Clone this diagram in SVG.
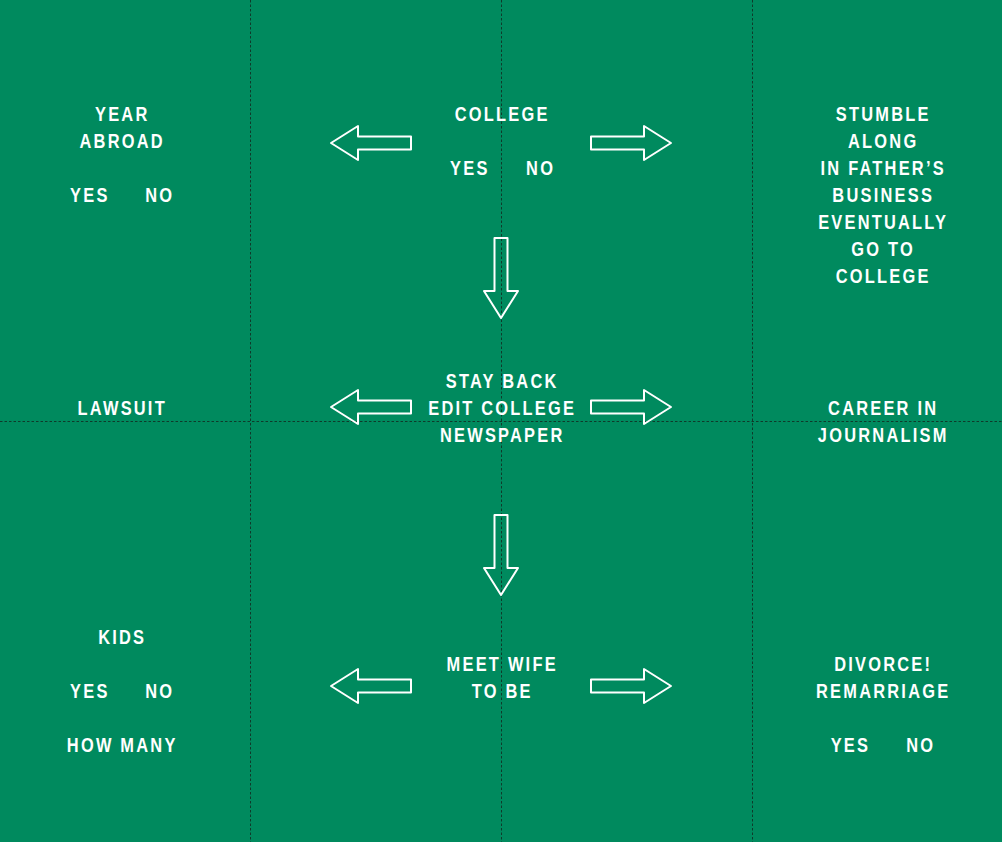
<svg xmlns="http://www.w3.org/2000/svg" width="1002" height="842" viewBox="0 0 1002 842">
<style>
.t{font-family:"Liberation Sans","DejaVu Sans",sans-serif;font-weight:bold;font-size:20.5px;fill:#fff;text-anchor:middle;letter-spacing:2.8px}
.grid{stroke:#0f3a2a;stroke-width:1;stroke-dasharray:2.5 2;fill:none}
.arr{fill:none;stroke:#fff;stroke-width:2;stroke-linejoin:round}
</style>
<defs>
<path id="la" d="M0,0 L27,-17 L27,-6.5 L80,-6.5 L80,6.5 L27,6.5 L27,17 Z"/>
</defs>
<rect width="1002" height="842" fill="#008a5e"/>
<g id="grid">
<line class="grid" x1="250.5" y1="0" x2="250.5" y2="842"/>
<line class="grid" x1="501.5" y1="0" x2="501.5" y2="842"/>
<line class="grid" x1="752.5" y1="0" x2="752.5" y2="842"/>
<line class="grid" x1="0" y1="421.5" x2="1002" y2="421.5"/>
</g>
<g id="connectors">
<use href="#la" class="arr" transform="translate(331,143)"/>
<use href="#la" class="arr" transform="translate(671,143) scale(-1,1)"/>
<use href="#la" class="arr" transform="translate(501,318) rotate(-90)"/>
<use href="#la" class="arr" transform="translate(331,407)"/>
<use href="#la" class="arr" transform="translate(671,407) scale(-1,1)"/>
<use href="#la" class="arr" transform="translate(501,595) rotate(-90)"/>
<use href="#la" class="arr" transform="translate(331,686)"/>
<use href="#la" class="arr" transform="translate(671,686) scale(-1,1)"/>
</g>
<g id="year-abroad" transform="translate(122.2 0) scale(0.8 1)">
<text class="t" x="0" y="121">YEAR</text>
<text class="t" x="0" y="148">ABROAD</text>
<text class="t" x="-40.5" y="202">YES</text>
<text class="t" x="47" y="202">NO</text>
</g>
<g id="college" transform="translate(502.2 0) scale(0.8 1)">
<text class="t" x="0" y="121">COLLEGE</text>
<text class="t" x="-40.5" y="175">YES</text>
<text class="t" x="48" y="175">NO</text>
</g>
<g id="stumble" transform="translate(883.2 0) scale(0.8 1)">
<text class="t" x="0" y="121">STUMBLE</text>
<text class="t" x="0" y="148">ALONG</text>
<text class="t" x="0" y="175">IN FATHER’S</text>
<text class="t" x="0" y="202">BUSINESS</text>
<text class="t" x="0" y="229">EVENTUALLY</text>
<text class="t" x="0" y="256">GO TO</text>
<text class="t" x="0" y="283">COLLEGE</text>
</g>
<g id="lawsuit" transform="translate(122.2 0) scale(0.8 1)">
<text class="t" x="0" y="415">LAWSUIT</text>
</g>
<g id="stay-back" transform="translate(502.2 0) scale(0.8 1)">
<text class="t" x="0" y="388">STAY BACK</text>
<text class="t" x="0" y="415">EDIT COLLEGE</text>
<text class="t" x="0" y="442">NEWSPAPER</text>
</g>
<g id="career" transform="translate(883.2 0) scale(0.8 1)">
<text class="t" x="0" y="415">CAREER IN</text>
<text class="t" x="0" y="442">JOURNALISM</text>
</g>
<g id="kids" transform="translate(122.2 0) scale(0.8 1)">
<text class="t" x="0" y="644">KIDS</text>
<text class="t" x="-40.5" y="698">YES</text>
<text class="t" x="47" y="698">NO</text>
<text class="t" x="0" y="752">HOW MANY</text>
</g>
<g id="meet-wife" transform="translate(502.2 0) scale(0.8 1)">
<text class="t" x="0" y="671">MEET WIFE</text>
<text class="t" x="0" y="698">TO BE</text>
</g>
<g id="divorce" transform="translate(883.2 0) scale(0.8 1)">
<text class="t" x="0" y="671">DIVORCE!</text>
<text class="t" x="0" y="698">REMARRIAGE</text>
<text class="t" x="-41" y="752">YES</text>
<text class="t" x="47" y="752">NO</text>
</g>
</svg>
